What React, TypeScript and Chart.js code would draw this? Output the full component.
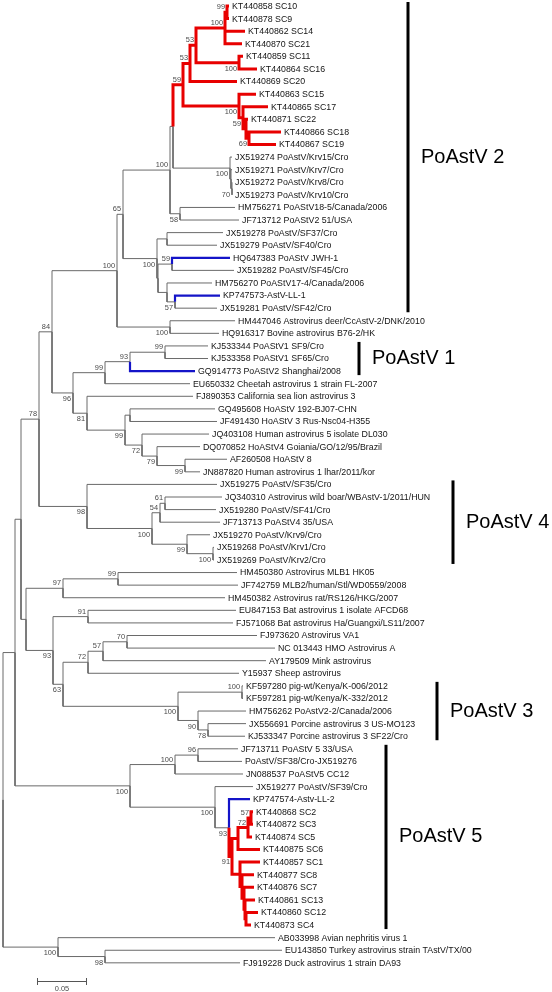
import { useEffect, useRef } from 'react';
import { Chart, registerables } from 'chart.js';

Chart.register(...registerables);

// ---------- DATA ----------
const leafNames = [
  'KT440858 SC10', 'KT440878 SC9', 'KT440862 SC14', 'KT440870 SC21', 'KT440859 SC11',
  'KT440864 SC16', 'KT440869 SC20', 'KT440863 SC15', 'KT440865 SC17', 'KT440871 SC22',
  'KT440866 SC18', 'KT440867 SC19', 'JX519274 PoAstV/Krv15/Cro', 'JX519271 PoAstV/Krv7/Cro',
  'JX519272 PoAstV/Krv8/Cro', 'JX519273 PoAstV/Krv10/Cro', 'HM756271 PoAStV18-5/Canada/2006',
  'JF713712 PoAStV2 51/USA', 'JX519278 PoAstV/SF37/Cro', 'JX519279 PoAstV/SF40/Cro',
  'HQ647383 PoAStV JWH-1', 'JX519282 PoAstV/SF45/Cro', 'HM756270 PoAStV17-4/Canada/2006',
  'KP747573-AstV-LL-1', 'JX519281 PoAstV/SF42/Cro', 'HM447046 Astrovirus deer/CcAstV-2/DNK/2010',
  'HQ916317 Bovine astrovirus B76-2/HK', 'KJ533344 PoAStV1 SF9/Cro', 'KJ533358 PoAStV1 SF65/Cro',
  'GQ914773 PoAStV2 Shanghai/2008', 'EU650332 Cheetah astrovirus 1 strain FL-2007',
  'FJ890353 California sea lion astrovirus 3', 'GQ495608 HoAStV 192-BJ07-CHN',
  'JF491430 HoAStV 3 Rus-Nsc04-H355', 'JQ403108 Human astrovirus 5 isolate DL030',
  'DQ070852 HoAStV4 Goiania/GO/12/95/Brazil', 'AF260508 HoAStV 8',
  'JN887820 Human astrovirus 1 lhar/2011/kor', 'JX519275 PoAstV/SF35/Cro',
  'JQ340310 Astrovirus wild boar/WBAstV-1/2011/HUN', 'JX519280 PoAstV/SF41/Cro',
  'JF713713 PoAStV4 35/USA', 'JX519270 PoAstV/Krv9/Cro', 'JX519268 PoAstV/Krv1/Cro',
  'JX519269 PoAstV/Krv2/Cro', 'HM450380 Astrovirus MLB1 HK05', 'JF742759 MLB2/human/Stl/WD0559/2008',
  'HM450382 Astrovirus rat/RS126/HKG/2007', 'EU847153 Bat astrovirus 1 isolate AFCD68',
  'FJ571068 Bat astrovirus Ha/Guangxi/LS11/2007', 'FJ973620 Astrovirus VA1',
  'NC 013443 HMO Astrovirus A', 'AY179509 Mink astrovirus', 'Y15937 Sheep astrovirus',
  'KF597280 pig-wt/Kenya/K-006/2012', 'KF597281 pig-wt/Kenya/K-332/2012',
  'HM756262 PoAstV2-2/Canada/2006', 'JX556691 Porcine astrovirus 3 US-MO123',
  'KJ533347 Porcine astrovirus 3 SF22/Cro', 'JF713711 PoAStV 5 33/USA',
  'PoAstV/SF38/Cro-JX519276', 'JN088537 PoAStV5 CC12', 'JX519277 PoAstV/SF39/Cro',
  'KP747574-Astv-LL-2', 'KT440868 SC2', 'KT440872 SC3', 'KT440874 SC5', 'KT440875 SC6',
  'KT440857 SC1', 'KT440877 SC8', 'KT440876 SC7', 'KT440861 SC13', 'KT440860 SC12',
  'KT440873 SC4', 'AB033998 Avian nephritis virus 1', 'EU143850 Turkey astrovirus strain TAstV/TX/00',
  'FJ919228 Duck astrovirus 1 strain DA93',
];

// distance from root (substitutions/site) of each tip
const leafDepth = [
  0.226, 0.226, 0.242, 0.239, 0.240, 0.254, 0.234, 0.253, 0.265, 0.245,
  0.278, 0.273, 0.229, 0.229, 0.229, 0.229, 0.232, 0.236, 0.220, 0.214,
  0.227, 0.231, 0.209, 0.217, 0.214, 0.232, 0.216, 0.205, 0.205, 0.192,
  0.187, 0.190, 0.212, 0.214, 0.206, 0.197, 0.224, 0.197, 0.214, 0.219,
  0.213, 0.217, 0.207, 0.211, 0.211, 0.234, 0.235, 0.222, 0.233, 0.230,
  0.254, 0.272, 0.263, 0.236, 0.240, 0.240, 0.243, 0.243, 0.242, 0.235,
  0.239, 0.240, 0.250, 0.247, 0.250, 0.250, 0.249, 0.257, 0.257, 0.251,
  0.251, 0.252, 0.255, 0.248, 0.272, 0.279, 0.237,
];

// internal nodes: [id, depth, children (leaf index or node id), bootstrap]
const nodes = [
  ['root', 0.000, ['nB', 'n100av'], null],
  ['nB', 0.012, ['nC', 'n100p5'], null],
  ['nC', 0.018, ['n78', 'nA'], null],
  ['n78', 0.036, ['n84', 'n98'], 78],
  ['n84', 0.049, ['nX', 'n96'], 84],
  ['nX', 0.114, ['n65', 'nDeer'], 100],
  ['n65', 0.120, ['P', 'nSF'], 65],
  ['P', 0.167, ['Q', 'n58'], 100],
  ['Q', 0.170, ['nRed', 'nKrv'], null],
  ['nRed', 0.180, ['n53l', 'n100b'], 59],
  ['n53l', 0.187, ['n53u', 6], 53],
  ['n53u', 0.193, ['n100a', 'n100s'], 53],
  ['n100a', 0.222, ['n99sc', 2, 3], 100],
  ['n99sc', 0.224, [0, 1], 99],
  ['n100s', 0.236, [4, 5], 100],
  ['n100b', 0.236, [7, 'n59b'], 100],
  ['n59b', 0.240, [8, 'nXs'], 59],
  ['nXs', 0.243, [9, 'n69'], null],
  ['n69', 0.246, [10, 11], 69],
  ['nKrv', 0.227, [12, 'nK2'], 100],
  ['nK2', 0.228, [13, 'n70k'], null],
  ['n70k', 0.229, [14, 15], 70],
  ['n58', 0.177, [16, 17], 58],
  ['nSF', 0.154, ['n278', 'nSF2'], 100],
  ['n278', 0.164, [18, 19], null],
  ['nSF2', 0.155, ['n59h', 'nLL'], null],
  ['n59h', 0.169, [20, 21], 59],
  ['nLL', 0.164, [22, 'n57ll'], null],
  ['n57ll', 0.172, [23, 24], 57],
  ['nDeer', 0.167, [25, 26], 100],
  ['n96', 0.070, ['n99c', 'n81'], 96],
  ['n99c', 0.102, ['n93p', 30], 99],
  ['n93p', 0.127, ['n99p', 29], 93],
  ['n99p', 0.162, [27, 28], 99],
  ['n81', 0.084, [31, 'n99h'], 81],
  ['n99h', 0.122, ['nGQ', 'n72h'], 99],
  ['nGQ', 0.127, [32, 33], null],
  ['n72h', 0.139, [34, 'n79'], 72],
  ['n79', 0.154, [35, 'n99a'], 79],
  ['n99a', 0.182, [36, 37], 99],
  ['n98', 0.084, [38, 'n100q'], 98],
  ['n100q', 0.149, ['n54', 'n99k'], 100],
  ['n54', 0.157, ['n61', 41], 54],
  ['n61', 0.162, [39, 40], 61],
  ['n99k', 0.184, [42, 'n100kr'], 99],
  ['n100kr', 0.210, [43, 44], 100],
  ['nA', 0.023, ['n97', 'n93'], null],
  ['n97', 0.060, ['n99mlb', 47], 97],
  ['n99mlb', 0.115, [45, 46], 99],
  ['n93', 0.050, ['n91bat', 'n63'], 93],
  ['n91bat', 0.085, [48, 49], 91],
  ['n63', 0.060, ['n72', 'n100k3'], 63],
  ['n72', 0.085, ['n57', 53], 72],
  ['n57', 0.100, ['n70', 52], 57],
  ['n70', 0.124, [50, 51], 70],
  ['n100k3', 0.175, ['nKen', 'n90'], 100],
  ['nKen', 0.239, [54, 55], 100],
  ['n90', 0.195, [56, 'n78p3'], 90],
  ['n78p3', 0.205, [57, 58], 78],
  ['n100p5', 0.127, ['n100a5', 'n100b5'], 100],
  ['n100a5', 0.172, ['n96p5', 61], 100],
  ['n96p5', 0.195, [59, 60], 96],
  ['n100b5', 0.212, [62, 'n93b'], 100],
  ['n93b', 0.226, [63, 'nSC'], 93],
  ['nSC', 0.229, ['nUp', 'nLo'], 91],
  ['nUp', 0.235, ['n72s', 67], null],
  ['n72s', 0.245, ['n57s', 66], 72],
  ['n57s', 0.248, [64, 65], 57],
  ['nLo', 0.237, [68, 'nL2'], null],
  ['nL2', 0.239, [69, 'nL3'], null],
  ['nL3', 0.241, [70, 'nL4'], null],
  ['nL4', 0.242, [71, 'nL5'], null],
  ['nL5', 0.243, [72, 73], null],
  ['n100av', 0.055, [74, 'n98d'], 100],
  ['n98d', 0.102, [75, 76], 98],
];

// branches highlighted in red / blue
const redNodes = ['nRed', 'n53l', 'n53u', 'n100a', 'n99sc', 'n100s', 'n100b', 'n59b', 'nXs', 'n69',
  'nSC', 'nUp', 'n72s', 'n57s', 'nLo', 'nL2', 'nL3', 'nL4', 'nL5'];
const redLeaves = [0, 1, 2, 3, 4, 5, 6, 7, 8, 9, 10, 11, 64, 65, 66, 67, 68, 69, 70, 71, 72, 73];
const blueLeaves = [20, 23, 29, 63];

// clades
const cladeNames = ['PoAstV 2', 'PoAstV 1', 'PoAstV 4', 'PoAstV 3', 'PoAstV 5'];
const cladeFirstLeaf = [0, 27, 38, 54, 59];
const cladeLastLeaf = [24, 29, 44, 58, 73];

const scaleBarValue = 0.05;
const scaleBarLabel = '0.05';

// ---------- LAYOUT (styles / positions) ----------
const W = 552;
const H = 992;
const LEAF_PX = 12.59;
const TOP_PX = 6;
const cladeBarPx = [408, 359, 453, 437, 386];
const SCALE_BAR_START = 0.034;
const SCALE_BAR_Y = 981;

// ---------- tree geometry ----------
const nodeDepth: Record<string, number> = {};
const nodeKids: Record<string, any[]> = {};
const nodeBoot: Record<string, any> = {};
const parentOf: Record<string, string> = {};
const keyOf = (k: any) => (typeof k === 'number' ? 'L' + k : k);
nodes.forEach((n: any) => {
  nodeDepth[n[0]] = n[1];
  nodeKids[n[0]] = n[2];
  nodeBoot[n[0]] = n[3];
  n[2].forEach((k: any) => { parentOf[keyOf(k)] = n[0]; });
});
const yCache: Record<string, number> = {};
function yOf(k: any): number {
  if (typeof k === 'number') return k;
  if (yCache[k] !== undefined) return yCache[k];
  const kids = nodeKids[k];
  const v = (yOf(kids[0]) + yOf(kids[kids.length - 1])) / 2;
  yCache[k] = v;
  return v;
}
const depthOf = (k: any) => (typeof k === 'number' ? leafDepth[k] : nodeDepth[k]);
const redSet = new Set<string>([...redNodes, ...redLeaves.map((i) => 'L' + i)]);
const blueSet = new Set<string>(blueLeaves.map((i) => 'L' + i));

function buildSegments() {
  const red: any[] = [];
  const blue: any[] = [];
  const gray: any[] = [];
  nodes.forEach((n: any) => {
    const px = n[1];
    const py = yOf(n[0]);
    n[2].forEach((k: any) => {
      const key = keyOf(k);
      const target = redSet.has(key) ? red : blueSet.has(key) ? blue : gray;
      const cy = yOf(k);
      target.push({ x: px, y: py }, { x: px, y: cy }, { x: depthOf(k), y: cy }, { x: null, y: null });
    });
  });
  return { red, blue, gray };
}

const FONT = '"Liberation Sans", Arial, Helvetica, sans-serif';

const treeText = {
  id: 'treeText',
  afterDatasetsDraw(chart: any) {
    const ctx = chart.ctx;
    const xs = chart.scales.x;
    const ys = chart.scales.y;
    ctx.save();
    // tip labels
    ctx.font = `8.8px ${FONT}`;
    ctx.fillStyle = '#141414';
    ctx.textBaseline = 'middle';
    ctx.textAlign = 'left';
    leafNames.forEach((name, i) => {
      ctx.fillText(name, xs.getPixelForValue(leafDepth[i]) + 3, ys.getPixelForValue(i) + 0.5);
    });
    // bootstrap values
    ctx.font = `7.4px ${FONT}`;
    ctx.fillStyle = '#4a4a4a';
    ctx.textAlign = 'right';
    nodes.forEach((n: any) => {
      const b = nodeBoot[n[0]];
      if (b === null || b === undefined) return;
      const par = parentOf[n[0]];
      const first = par ? keyOf(nodeKids[par][0]) === n[0] : true;
      const x = xs.getPixelForValue(n[1]) - 2;
      const y = ys.getPixelForValue(yOf(n[0])) + (first ? -5 : 6);
      ctx.fillText(String(b), x, y);
    });
    // clade bars + labels
    ctx.strokeStyle = '#000';
    ctx.fillStyle = '#000';
    ctx.lineWidth = 3;
    ctx.textAlign = 'left';
    ctx.font = `20px ${FONT}`;
    cladeNames.forEach((name, i) => {
      const x = cladeBarPx[i];
      const y0 = ys.getPixelForValue(cladeFirstLeaf[i]) - 4;
      const y1 = ys.getPixelForValue(cladeLastLeaf[i]) + 4;
      ctx.beginPath();
      ctx.moveTo(x, y0);
      ctx.lineTo(x, y1);
      ctx.stroke();
      ctx.fillText(name, x + 13, (y0 + y1) / 2);
    });
    // scale bar
    const sx0 = xs.getPixelForValue(SCALE_BAR_START);
    const sx1 = xs.getPixelForValue(SCALE_BAR_START + scaleBarValue);
    ctx.strokeStyle = '#555';
    ctx.lineWidth = 1;
    ctx.beginPath();
    ctx.moveTo(sx0, SCALE_BAR_Y + 0.5);
    ctx.lineTo(sx1, SCALE_BAR_Y + 0.5);
    ctx.moveTo(sx0 + 0.5, SCALE_BAR_Y - 3);
    ctx.lineTo(sx0 + 0.5, SCALE_BAR_Y + 4);
    ctx.moveTo(sx1 - 0.5, SCALE_BAR_Y - 3);
    ctx.lineTo(sx1 - 0.5, SCALE_BAR_Y + 4);
    ctx.stroke();
    ctx.font = `7.4px ${FONT}`;
    ctx.fillStyle = '#4a4a4a';
    ctx.textAlign = 'center';
    ctx.fillText(scaleBarLabel, (sx0 + sx1) / 2, SCALE_BAR_Y + 8);
    ctx.restore();
  },
};

export default function App() {
  const ref = useRef<HTMLCanvasElement | null>(null);
  useEffect(() => {
    document.body.style.margin = '0';
    const canvas = ref.current;
    if (!canvas) return;
    const seg = buildSegments();
    const lineDs = (data: any[], color: string, width: number) => ({
      data,
      showLine: true,
      spanGaps: false,
      borderColor: color,
      backgroundColor: color,
      borderWidth: width,
      borderJoinStyle: 'miter',
      borderCapStyle: 'butt',
      pointRadius: 0,
      pointHoverRadius: 0,
      tension: 0,
    });
    const chart = new Chart(canvas, {
      type: 'scatter',
      data: {
        datasets: [
          lineDs(seg.red, '#e80000', 3),
          lineDs(seg.blue, '#1414c8', 2.2),
          lineDs(seg.gray, '#6a6a6a', 1),
        ] as any,
      },
      options: {
        animation: false,
        responsive: false,
        maintainAspectRatio: false,
        devicePixelRatio: 1,
        events: [],
        layout: { padding: 0 },
        plugins: { legend: { display: false }, tooltip: { enabled: false } },
        scales: {
          x: { type: 'linear', display: false, min: -0.003, max: W / 1000 - 0.003 },
          y: {
            type: 'linear',
            display: false,
            reverse: true,
            min: -TOP_PX / LEAF_PX,
            max: (H - TOP_PX) / LEAF_PX,
          },
        },
      } as any,
      plugins: [treeText],
    });
    return () => chart.destroy();
  }, []);
  return <canvas ref={ref} width={W} height={H} style={{ display: 'block' }} />;
}
